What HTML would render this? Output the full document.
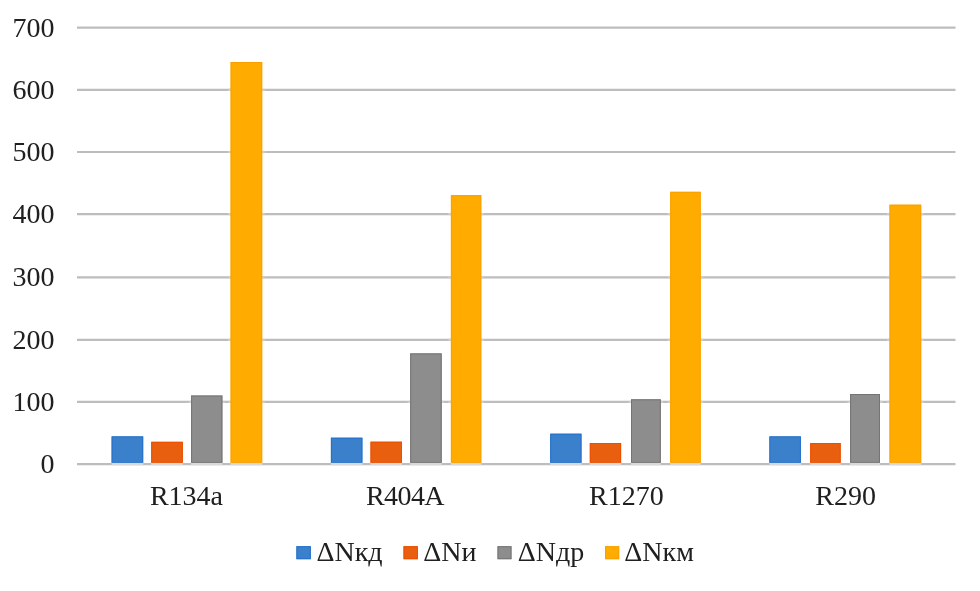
<!DOCTYPE html>
<html>
<head>
<meta charset="utf-8">
<title>Chart</title>
<style>
  html, body { margin: 0; padding: 0; background: #ffffff; }
  body { width: 980px; height: 591px; overflow: hidden; }
  svg { display: block; will-change: transform; }
  text { font-family: "Liberation Serif", serif; font-size: 28px; fill: #202020; }
</style>
</head>
<body>
<svg width="980" height="591" viewBox="0 0 980 591">
  <rect x="0" y="0" width="980" height="591" fill="#ffffff"/>

  <!-- horizontal gridlines -->
  <g stroke="#bdbdbd" stroke-width="2.2">
    <line x1="77" y1="27.65" x2="955.5" y2="27.65"/>
    <line x1="77" y1="89.85" x2="955.5" y2="89.85"/>
    <line x1="77" y1="152.0" x2="955.5" y2="152.0"/>
    <line x1="77" y1="214.1" x2="955.5" y2="214.1"/>
    <line x1="77" y1="277.4" x2="955.5" y2="277.4"/>
    <line x1="77" y1="339.85" x2="955.5" y2="339.85"/>
    <line x1="77" y1="401.9" x2="955.5" y2="401.9"/>
    <line x1="77" y1="464.05" x2="955.5" y2="464.05"/>
  </g>

  <!-- value axis labels -->
  <g text-anchor="end">
    <text x="54.5" y="36.75">700</text>
    <text x="54.5" y="98.95">600</text>
    <text x="54.5" y="161.10">500</text>
    <text x="54.5" y="223.20">400</text>
    <text x="54.5" y="285.95">300</text>
    <text x="54.5" y="348.95">200</text>
    <text x="54.5" y="411.00">100</text>
    <text x="54.5" y="473.15">0</text>
  </g>

  <!-- softened gridline segments next to bars (sharpening halo) -->
  <rect x="188.6" y="400.80" width="36.3" height="2.2" fill="#cfcfcf"/>
  <rect x="228.1" y="88.75" width="36.6" height="2.2" fill="#cfcfcf"/>
  <rect x="228.1" y="150.90" width="36.6" height="2.2" fill="#cfcfcf"/>
  <rect x="228.1" y="213.00" width="36.6" height="2.2" fill="#cfcfcf"/>
  <rect x="228.1" y="276.30" width="36.6" height="2.2" fill="#cfcfcf"/>
  <rect x="228.1" y="338.75" width="36.6" height="2.2" fill="#cfcfcf"/>
  <rect x="228.1" y="400.80" width="36.6" height="2.2" fill="#cfcfcf"/>
  <rect x="407.7" y="400.80" width="36.5" height="2.2" fill="#cfcfcf"/>
  <rect x="448.4" y="213.00" width="35.4" height="2.2" fill="#cfcfcf"/>
  <rect x="448.4" y="276.30" width="35.4" height="2.2" fill="#cfcfcf"/>
  <rect x="448.4" y="338.75" width="35.4" height="2.2" fill="#cfcfcf"/>
  <rect x="448.4" y="400.80" width="35.4" height="2.2" fill="#cfcfcf"/>
  <rect x="628.5" y="400.80" width="34.8" height="2.2" fill="#cfcfcf"/>
  <rect x="667.7" y="213.00" width="35.5" height="2.2" fill="#cfcfcf"/>
  <rect x="667.7" y="276.30" width="35.5" height="2.2" fill="#cfcfcf"/>
  <rect x="667.7" y="338.75" width="35.5" height="2.2" fill="#cfcfcf"/>
  <rect x="667.7" y="400.80" width="35.5" height="2.2" fill="#cfcfcf"/>
  <rect x="847.6" y="400.80" width="34.9" height="2.2" fill="#cfcfcf"/>
  <rect x="887.0" y="213.00" width="36.7" height="2.2" fill="#cfcfcf"/>
  <rect x="887.0" y="276.30" width="36.7" height="2.2" fill="#cfcfcf"/>
  <rect x="887.0" y="338.75" width="36.7" height="2.2" fill="#cfcfcf"/>
  <rect x="887.0" y="400.80" width="36.7" height="2.2" fill="#cfcfcf"/>
  <!-- bars -->
  <rect x="111.6" y="436.4" width="31.6" height="26.5" fill="#3b80cb"/>
  <rect x="112.1" y="436.9" width="30.6" height="25.5" fill="none" stroke="#2470cc" stroke-width="1"/>
  <rect x="111.6" y="462.9" width="31.6" height="2.3" fill="#dad8d8"/>
  <rect x="151.2" y="441.8" width="31.6" height="21.1" fill="#e8600f"/>
  <rect x="151.7" y="442.3" width="30.6" height="20.1" fill="none" stroke="#ee4e00" stroke-width="1"/>
  <rect x="151.2" y="462.9" width="31.6" height="2.3" fill="#dad8d8"/>
  <rect x="191.1" y="395.5" width="31.3" height="67.4" fill="#8d8d8d"/>
  <rect x="191.6" y="396.0" width="30.3" height="66.4" fill="none" stroke="#747474" stroke-width="1"/>
  <rect x="191.1" y="462.9" width="31.3" height="2.3" fill="#dad8d8"/>
  <rect x="230.6" y="62.0" width="31.6" height="400.9" fill="#ffab00"/>
  <rect x="231.1" y="62.5" width="30.6" height="399.9" fill="none" stroke="#fba000" stroke-width="1"/>
  <rect x="230.6" y="462.9" width="31.6" height="2.3" fill="#dad8d8"/>
  <rect x="330.9" y="437.7" width="31.5" height="25.2" fill="#3b80cb"/>
  <rect x="331.4" y="438.2" width="30.5" height="24.2" fill="none" stroke="#2470cc" stroke-width="1"/>
  <rect x="330.9" y="462.9" width="31.5" height="2.3" fill="#dad8d8"/>
  <rect x="370.5" y="441.7" width="31.5" height="21.2" fill="#e8600f"/>
  <rect x="371.0" y="442.2" width="30.5" height="20.2" fill="none" stroke="#ee4e00" stroke-width="1"/>
  <rect x="370.5" y="462.9" width="31.5" height="2.3" fill="#dad8d8"/>
  <rect x="410.2" y="353.4" width="31.5" height="109.5" fill="#8d8d8d"/>
  <rect x="410.7" y="353.9" width="30.5" height="108.5" fill="none" stroke="#747474" stroke-width="1"/>
  <rect x="410.2" y="462.9" width="31.5" height="2.3" fill="#dad8d8"/>
  <rect x="450.9" y="195.2" width="30.4" height="267.7" fill="#ffab00"/>
  <rect x="451.4" y="195.7" width="29.4" height="266.7" fill="none" stroke="#fba000" stroke-width="1"/>
  <rect x="450.9" y="462.9" width="30.4" height="2.3" fill="#dad8d8"/>
  <rect x="550.2" y="433.7" width="31.3" height="29.2" fill="#3b80cb"/>
  <rect x="550.7" y="434.2" width="30.3" height="28.2" fill="none" stroke="#2470cc" stroke-width="1"/>
  <rect x="550.2" y="462.9" width="31.3" height="2.3" fill="#dad8d8"/>
  <rect x="589.8" y="443.0" width="31.3" height="19.9" fill="#e8600f"/>
  <rect x="590.3" y="443.5" width="30.3" height="18.9" fill="none" stroke="#ee4e00" stroke-width="1"/>
  <rect x="589.8" y="462.9" width="31.3" height="2.3" fill="#dad8d8"/>
  <rect x="631.0" y="399.3" width="29.8" height="63.6" fill="#8d8d8d"/>
  <rect x="631.5" y="399.8" width="28.8" height="62.6" fill="none" stroke="#747474" stroke-width="1"/>
  <rect x="631.0" y="462.9" width="29.8" height="2.3" fill="#dad8d8"/>
  <rect x="670.2" y="191.8" width="30.5" height="271.1" fill="#ffab00"/>
  <rect x="670.7" y="192.3" width="29.5" height="270.1" fill="none" stroke="#fba000" stroke-width="1"/>
  <rect x="670.2" y="462.9" width="30.5" height="2.3" fill="#dad8d8"/>
  <rect x="769.4" y="436.4" width="31.5" height="26.5" fill="#3b80cb"/>
  <rect x="769.9" y="436.9" width="30.5" height="25.5" fill="none" stroke="#2470cc" stroke-width="1"/>
  <rect x="769.4" y="462.9" width="31.5" height="2.3" fill="#dad8d8"/>
  <rect x="810.2" y="443.0" width="30.5" height="19.9" fill="#e8600f"/>
  <rect x="810.7" y="443.5" width="29.5" height="18.9" fill="none" stroke="#ee4e00" stroke-width="1"/>
  <rect x="810.2" y="462.9" width="30.5" height="2.3" fill="#dad8d8"/>
  <rect x="850.1" y="394.0" width="29.9" height="68.9" fill="#8d8d8d"/>
  <rect x="850.6" y="394.5" width="28.9" height="67.9" fill="none" stroke="#747474" stroke-width="1"/>
  <rect x="850.1" y="462.9" width="29.9" height="2.3" fill="#dad8d8"/>
  <rect x="889.5" y="204.7" width="31.7" height="258.2" fill="#ffab00"/>
  <rect x="890.0" y="205.2" width="30.7" height="257.2" fill="none" stroke="#fba000" stroke-width="1"/>
  <rect x="889.5" y="462.9" width="31.7" height="2.3" fill="#dad8d8"/>

  <!-- category labels -->
  <g text-anchor="middle">
    <text x="186.5" y="505.1">R134a</text>
    <text x="405.0" y="505.1" letter-spacing="-0.6">R404A</text>
    <text x="626.3" y="505.1">R1270</text>
    <text x="845.6" y="505.1">R290</text>
  </g>

  <!-- legend -->
  <rect x="296.4" y="546.2" width="14.4" height="13" fill="#3b80cb"/>
  <rect x="296.9" y="546.7" width="13.4" height="12" fill="none" stroke="#2470cc" stroke-width="1"/>
  <text x="316.5" y="561">ΔNкд</text>
  <rect x="403.5" y="546.2" width="14.4" height="13" fill="#e8600f"/>
  <rect x="404.0" y="546.7" width="13.4" height="12" fill="none" stroke="#ee4e00" stroke-width="1"/>
  <text x="423.2" y="561">ΔNи</text>
  <rect x="497.5" y="546.2" width="14.0" height="13" fill="#8d8d8d"/>
  <rect x="498.0" y="546.7" width="13.0" height="12" fill="none" stroke="#747474" stroke-width="1"/>
  <text x="517.7" y="561">ΔNдр</text>
  <rect x="605.0" y="546.2" width="14.2" height="13" fill="#ffab00"/>
  <rect x="605.5" y="546.7" width="13.2" height="12" fill="none" stroke="#fba000" stroke-width="1"/>
  <text x="624.3" y="561">ΔNкм</text>
</svg>
</body>
</html>
